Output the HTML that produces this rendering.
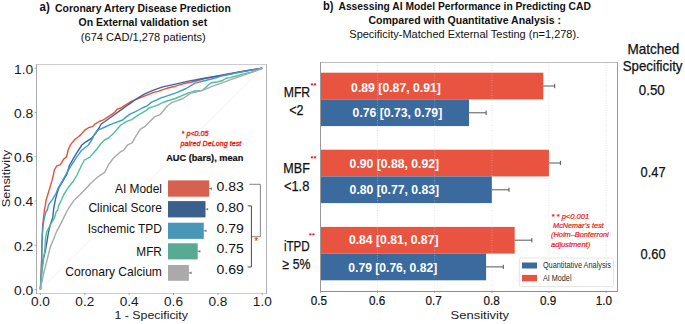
<!DOCTYPE html>
<html><head><meta charset="utf-8"><style>
html,body{margin:0;padding:0;background:#fff;}
svg{display:block;font-family:"Liberation Sans", sans-serif;}
</style></head><body>
<svg width="685" height="324" viewBox="0 0 685 324">
<text x="39.6" y="11.1" font-size="13" text-anchor="start" fill="#111" font-weight="bold" textLength="10.2" lengthAdjust="spacingAndGlyphs">a)</text>
<text x="55.1" y="12.2" font-size="10.8" text-anchor="start" fill="#111" font-weight="bold" textLength="175.7" lengthAdjust="spacingAndGlyphs">Coronary Artery Disease Prediction</text>
<text x="78.5" y="26.0" font-size="10.8" text-anchor="start" fill="#111" font-weight="bold" textLength="128.7" lengthAdjust="spacingAndGlyphs">On External validation set</text>
<text x="80.8" y="41.3" font-size="10.8" text-anchor="start" fill="#111" textLength="125" lengthAdjust="spacingAndGlyphs">(674 CAD/1,278 patients)</text>
<text x="322.9" y="10.1" font-size="13" text-anchor="start" fill="#111" font-weight="bold" textLength="10.5" lengthAdjust="spacingAndGlyphs">b)</text>
<text x="338.5" y="10.1" font-size="10.8" text-anchor="start" fill="#111" font-weight="bold" textLength="252.3" lengthAdjust="spacingAndGlyphs">Assessing AI Model Performance in Predicting CAD</text>
<text x="368.4" y="24.0" font-size="10.8" text-anchor="start" fill="#111" font-weight="bold" textLength="192.6" lengthAdjust="spacingAndGlyphs">Compared with Quantitative Analysis :</text>
<text x="349.3" y="38.2" font-size="10.8" text-anchor="start" fill="#111" textLength="229.9" lengthAdjust="spacingAndGlyphs">Specificity-Matched External Testing (n=1,278).</text>
<rect x="36" y="64" width="231" height="1" fill="#cccccc"/>
<rect x="36" y="293" width="231" height="1" fill="#cecece"/>
<rect x="266" y="64" width="1" height="230" fill="#b4b4b4"/>
<rect x="36" y="64" width="1" height="230" fill="#acacac"/>
<line x1="40.4" y1="289.4" x2="262.3" y2="68.3" stroke="#f0f0f0" stroke-width="0.9"/>
<line x1="34.5" y1="289.4" x2="36.5" y2="289.4" stroke="#999" stroke-width="0.8"/>
<text x="33.3" y="294.7" font-size="12.8" text-anchor="end" fill="#1a1a1a" textLength="19.3" lengthAdjust="spacingAndGlyphs">0.0</text>
<line x1="34.5" y1="245.2" x2="36.5" y2="245.2" stroke="#999" stroke-width="0.8"/>
<text x="33.3" y="250.5" font-size="12.8" text-anchor="end" fill="#1a1a1a" textLength="19.3" lengthAdjust="spacingAndGlyphs">0.2</text>
<line x1="34.5" y1="201.0" x2="36.5" y2="201.0" stroke="#999" stroke-width="0.8"/>
<text x="33.3" y="206.3" font-size="12.8" text-anchor="end" fill="#1a1a1a" textLength="19.3" lengthAdjust="spacingAndGlyphs">0.4</text>
<line x1="34.5" y1="156.7" x2="36.5" y2="156.7" stroke="#999" stroke-width="0.8"/>
<text x="33.3" y="162.0" font-size="12.8" text-anchor="end" fill="#1a1a1a" textLength="19.3" lengthAdjust="spacingAndGlyphs">0.6</text>
<line x1="34.5" y1="112.5" x2="36.5" y2="112.5" stroke="#999" stroke-width="0.8"/>
<text x="33.3" y="117.8" font-size="12.8" text-anchor="end" fill="#1a1a1a" textLength="19.3" lengthAdjust="spacingAndGlyphs">0.8</text>
<line x1="34.5" y1="68.3" x2="36.5" y2="68.3" stroke="#999" stroke-width="0.8"/>
<text x="33.3" y="73.6" font-size="12.8" text-anchor="end" fill="#1a1a1a" textLength="19.3" lengthAdjust="spacingAndGlyphs">1.0</text>
<line x1="40.4" y1="293" x2="40.4" y2="295" stroke="#999" stroke-width="0.8"/>
<text x="40.4" y="305.8" font-size="12.8" text-anchor="middle" fill="#1a1a1a" textLength="19.0" lengthAdjust="spacingAndGlyphs">0.0</text>
<line x1="84.8" y1="293" x2="84.8" y2="295" stroke="#999" stroke-width="0.8"/>
<text x="84.8" y="305.8" font-size="12.8" text-anchor="middle" fill="#1a1a1a" textLength="19.0" lengthAdjust="spacingAndGlyphs">0.2</text>
<line x1="129.2" y1="293" x2="129.2" y2="295" stroke="#999" stroke-width="0.8"/>
<text x="129.2" y="305.8" font-size="12.8" text-anchor="middle" fill="#1a1a1a" textLength="19.0" lengthAdjust="spacingAndGlyphs">0.4</text>
<line x1="173.5" y1="293" x2="173.5" y2="295" stroke="#999" stroke-width="0.8"/>
<text x="173.5" y="305.8" font-size="12.8" text-anchor="middle" fill="#1a1a1a" textLength="19.0" lengthAdjust="spacingAndGlyphs">0.6</text>
<line x1="217.9" y1="293" x2="217.9" y2="295" stroke="#999" stroke-width="0.8"/>
<text x="217.9" y="305.8" font-size="12.8" text-anchor="middle" fill="#1a1a1a" textLength="19.0" lengthAdjust="spacingAndGlyphs">0.8</text>
<line x1="262.3" y1="293" x2="262.3" y2="295" stroke="#999" stroke-width="0.8"/>
<text x="262.3" y="305.8" font-size="12.8" text-anchor="middle" fill="#1a1a1a" textLength="19.0" lengthAdjust="spacingAndGlyphs">1.0</text>
<text x="114.4" y="318.9" font-size="11.0" text-anchor="start" fill="#1a1a1a" textLength="73.6" lengthAdjust="spacingAndGlyphs">1 - Specificity</text>
<text transform="translate(10.4,207.2) rotate(-90)" font-size="10.8" fill="#222" textLength="57.3" lengthAdjust="spacingAndGlyphs">Sensitivity</text>
<rect x="113" y="182" width="51" height="14" fill="#fff"/>
<rect x="86" y="201" width="78" height="14" fill="#fff"/>
<rect x="85" y="222" width="79" height="14" fill="#fff"/>
<rect x="134" y="245" width="30" height="14" fill="#fff"/>
<rect x="63" y="265" width="101" height="14" fill="#fff"/>
<polyline points="40.4,289.4 41,275 41.6,259.8 42,244.6 42.3,234.7 42.7,224.8 43.6,217.4 44.4,210 45.2,205.9 46.2,199.7 47.3,196.3 49.6,188.6 51.9,180.9 53.4,175 54.3,170 56.6,166.2 60.4,164.7 63.5,159.3 66.6,156.9 68.1,150 70.6,144.6 75,139.3 77.8,137.2 80.6,134.9 85.2,129.8 88.9,127.5 92.6,126.6 95.4,123.8 99.1,121.5 102.8,120.1 105,118.9 109.6,115.9 114.3,112.7 117,109.4 120.7,108 124.4,105.7 128.1,103.4 131.9,101.1 135,99.8 144.3,96.1 150.7,93.7 153.5,92.4 158.1,91.4 162.8,89.6 167,88.3 175.4,86.2 184,83.6 190.8,82.3 195,81.2 205.8,78.4 216.6,76.2 227.4,74 238.2,72.3 249,70.4 262.3,68.3" fill="none" stroke="#e8503a" stroke-width="1.4" stroke-linejoin="round"/>
<polyline points="40.4,289.4 41.5,275 43,259.8 45.5,250 47.3,239.6 48.5,232.2 50.3,224.8 52.8,217.4 53.3,212 54.2,205.9 55.4,199.7 57,193.5 59.1,187.3 62.8,181.2 66.5,175 69.6,165 76.1,153.9 81.9,145 85.2,142.3 91.7,138.1 95.4,133.5 99.1,128 101.2,124 104.9,121.5 108.7,118.7 114.3,114.7 118.9,111.4 123.5,108.1 128.1,104.8 132,102.2 135.7,99.3 144.3,94.2 153.5,90.2 162.8,86.9 175.4,84.1 190.8,80.6 195,80 204.3,78.3 213.5,76.8 222.8,75.3 230,74 238.2,72.1 249,70.2 262.3,68.3" fill="none" stroke="#3a63a6" stroke-width="1.4" stroke-linejoin="round"/>
<polyline points="40.4,289.4 41.2,275 41.7,259.8 41.9,244.6 42.3,234.7 43.2,224.8 44.4,217.4 45.9,212 47.3,210 48.6,204.6 52.3,199.7 56,193.5 58.5,187.3 62.2,181.2 65.6,175 71.5,165 77,156.7 81.7,150.2 88.4,145 91.7,140 94.4,134.4 97.2,130.3 100.9,128.9 105,127 110,124.6 116.3,122.4 122.6,120 126.3,116.9 130,114.1 135,111.8 138.5,110 142.4,108 147,105.8 151.7,102.1 156.3,100.2 160.9,97.9 165,96.6 175.4,93.1 186.2,88.5 195,83.1 204.3,80.8 213.5,78.5 222.8,75.7 230,74.3 238.2,72.5 249,70.6 262.3,68.3" fill="none" stroke="#3b9ad2" stroke-width="1.4" stroke-linejoin="round"/>
<polyline points="40.4,289.4 41.5,275 43.5,259.8 44.8,250 45.4,239.6 46.6,232.2 50.3,224.8 54.7,217.4 56,212 57.8,210 58.5,205.9 61.5,199.7 63.8,194.5 68.4,187.3 73.3,181.2 77,175 81.7,165 84.4,160 89.9,157.1 93.6,152.8 97.3,148.5 101,143.5 104.8,139.8 108.5,138 113.4,133.6 117.1,129.3 120.8,125 126.2,121.7 132.3,119.3 138.5,114.9 145.9,110.6 148.9,108 153.5,106.7 158.1,104.9 162.8,102.5 167,101 175.4,98.5 187.8,93.1 195,91 202.4,90.5 204.3,88.7 208.9,84.5 211.7,82.7 218.1,81.7 221.9,80.8 225.6,78.5 230,77.6 236,76 243.6,73.9 253.3,71.7 262.3,68.3" fill="none" stroke="#4dbf9f" stroke-width="1.4" stroke-linejoin="round"/>
<polyline points="40.4,289.4 43.4,274.6 47.1,259.8 50.3,247 53.4,239.6 56.3,232.2 60.2,224.8 63.9,217.4 67.6,210 70.2,205.9 74.6,199.7 80,194.8 88.1,186.3 90,184 97.7,177 104.7,172.4 108.5,164.7 113.1,158.5 120.9,151.6 123.7,150 127.4,145.2 132.3,142.7 136,135.9 140.4,129.1 144.7,126.7 149.6,121.7 154.6,116.8 160,114.7 164,110 167.7,105.5 172.3,102.4 183.1,98.5 190.8,93.1 195,92.4 204.3,89.6 213.5,85.9 222.8,82.7 230,79.9 238.2,77.1 249,73.3 262.3,68.3" fill="none" stroke="#a9a9a9" stroke-width="1.4" stroke-linejoin="round"/>
<text x="181.6" y="136.1" font-size="8" text-anchor="start" fill="#f01010" font-style="italic" textLength="27" lengthAdjust="spacingAndGlyphs" stroke="#f01010" stroke-width="0.3">* p&lt;0.05</text>
<text x="180.5" y="145.8" font-size="8" text-anchor="start" fill="#f01010" font-style="italic" textLength="60.8" lengthAdjust="spacingAndGlyphs" stroke="#f01010" stroke-width="0.3">paired DeLong test</text>
<text x="166.2" y="160.6" font-size="8.9" text-anchor="start" fill="#111" font-weight="bold" textLength="77.1" lengthAdjust="spacingAndGlyphs" stroke="#111" stroke-width="0.2">AUC (bars), mean</text>
<rect x="168" y="180.4" width="41.2" height="16.3" fill="#d8604f"/>
<line x1="209.2" y1="188.6" x2="211.4" y2="188.6" stroke="#555" stroke-width="0.8"/>
<line x1="211.4" y1="187.4" x2="211.4" y2="189.8" stroke="#555" stroke-width="0.8"/>
<text x="161.9" y="193.0" font-size="12.6" text-anchor="end" fill="#111" textLength="46.9" lengthAdjust="spacingAndGlyphs">AI Model</text>
<text x="216.5" y="191.0" font-size="12.6" text-anchor="start" fill="#111" textLength="27.3" lengthAdjust="spacingAndGlyphs">0.83</text>
<rect x="168" y="201.1" width="37.5" height="16.3" fill="#3b608b"/>
<line x1="205.5" y1="209.2" x2="207.7" y2="209.2" stroke="#555" stroke-width="0.8"/>
<line x1="207.7" y1="208.1" x2="207.7" y2="210.4" stroke="#555" stroke-width="0.8"/>
<text x="161.9" y="212.1" font-size="12.6" text-anchor="end" fill="#111" textLength="73.5" lengthAdjust="spacingAndGlyphs">Clinical Score</text>
<text x="216.5" y="211.8" font-size="12.6" text-anchor="start" fill="#111" textLength="27.3" lengthAdjust="spacingAndGlyphs">0.80</text>
<rect x="168" y="222.7" width="35.8" height="16.2" fill="#4997b8"/>
<line x1="203.8" y1="230.8" x2="206.0" y2="230.8" stroke="#555" stroke-width="0.8"/>
<line x1="206.0" y1="229.6" x2="206.0" y2="232.0" stroke="#555" stroke-width="0.8"/>
<text x="161.9" y="233.3" font-size="12.6" text-anchor="end" fill="#111" textLength="74.2" lengthAdjust="spacingAndGlyphs">Ischemic TPD</text>
<text x="216.5" y="232.6" font-size="12.6" text-anchor="start" fill="#111" textLength="27.3" lengthAdjust="spacingAndGlyphs">0.79</text>
<rect x="168" y="243.3" width="29.7" height="16.1" fill="#59aa93"/>
<line x1="197.7" y1="251.3" x2="199.9" y2="251.3" stroke="#555" stroke-width="0.8"/>
<line x1="199.9" y1="250.2" x2="199.9" y2="252.5" stroke="#555" stroke-width="0.8"/>
<text x="161.9" y="256.1" font-size="12.6" text-anchor="end" fill="#111" textLength="25.6" lengthAdjust="spacingAndGlyphs">MFR</text>
<text x="216.5" y="253.4" font-size="12.6" text-anchor="start" fill="#111" textLength="27.3" lengthAdjust="spacingAndGlyphs">0.75</text>
<rect x="168" y="265.0" width="20.9" height="15.8" fill="#aaaaaa"/>
<line x1="188.9" y1="272.9" x2="191.1" y2="272.9" stroke="#555" stroke-width="0.8"/>
<line x1="191.1" y1="271.7" x2="191.1" y2="274.1" stroke="#555" stroke-width="0.8"/>
<text x="161.9" y="275.8" font-size="12.6" text-anchor="end" fill="#111" textLength="96.6" lengthAdjust="spacingAndGlyphs">Coronary Calcium</text>
<text x="216.5" y="274.2" font-size="12.6" text-anchor="start" fill="#111" textLength="27.3" lengthAdjust="spacingAndGlyphs">0.69</text>
<polyline points="249.3,184.3 260.4,184.3 260.4,236.7 251.4,236.7" fill="none" stroke="#777" stroke-width="0.9"/>
<polyline points="247.7,205.9 251.4,205.9 251.4,267 247.7,267" fill="none" stroke="#333" stroke-width="0.9"/>
<text x="254.2" y="245.0" font-size="10" text-anchor="start" fill="#f01010">*</text>
<rect x="320" y="62" width="298" height="1" fill="#bdbdbd"/>
<rect x="617" y="62" width="1" height="230" fill="#9c9c9c"/>
<rect x="320.5" y="72.7" width="222.8" height="26.7" fill="#e8543f"/>
<rect x="320.5" y="99.4" width="148.5" height="26.7" fill="#3a6a9e"/>
<line x1="543.3" y1="86.0" x2="554.7" y2="86.0" stroke="#444" stroke-width="0.9"/>
<line x1="554.7" y1="83.8" x2="554.7" y2="88.2" stroke="#444" stroke-width="0.9"/>
<line x1="469.0" y1="112.8" x2="486.1" y2="112.8" stroke="#444" stroke-width="0.9"/>
<line x1="486.1" y1="110.5" x2="486.1" y2="115.0" stroke="#444" stroke-width="0.9"/>
<text x="351.1" y="92.0" font-size="12" text-anchor="start" fill="#fff" font-weight="bold" textLength="89.8" lengthAdjust="spacingAndGlyphs">0.89 [0.87, 0.91]</text>
<text x="352.6" y="117.0" font-size="12" text-anchor="start" fill="#fff" font-weight="bold" textLength="89.6" lengthAdjust="spacingAndGlyphs">0.76 [0.73, 0.79]</text>
<rect x="320.5" y="149.7" width="228.5" height="26.7" fill="#e8543f"/>
<rect x="320.5" y="176.4" width="171.4" height="26.7" fill="#3a6a9e"/>
<line x1="549.0" y1="163.0" x2="560.4" y2="163.0" stroke="#444" stroke-width="0.9"/>
<line x1="560.4" y1="160.8" x2="560.4" y2="165.2" stroke="#444" stroke-width="0.9"/>
<line x1="491.9" y1="189.8" x2="509.0" y2="189.8" stroke="#444" stroke-width="0.9"/>
<line x1="509.0" y1="187.6" x2="509.0" y2="191.9" stroke="#444" stroke-width="0.9"/>
<text x="349.6" y="168.1" font-size="12" text-anchor="start" fill="#fff" font-weight="bold" textLength="89.5" lengthAdjust="spacingAndGlyphs">0.90 [0.88, 0.92]</text>
<text x="349.6" y="194.4" font-size="12" text-anchor="start" fill="#fff" font-weight="bold" textLength="89.5" lengthAdjust="spacingAndGlyphs">0.80 [0.77, 0.83]</text>
<rect x="320.5" y="226.9" width="194.2" height="26.7" fill="#e8543f"/>
<rect x="320.5" y="253.6" width="165.6" height="26.7" fill="#3a6a9e"/>
<line x1="514.7" y1="240.2" x2="531.9" y2="240.2" stroke="#444" stroke-width="0.9"/>
<line x1="531.9" y1="238.1" x2="531.9" y2="242.4" stroke="#444" stroke-width="0.9"/>
<line x1="486.1" y1="266.9" x2="503.3" y2="266.9" stroke="#444" stroke-width="0.9"/>
<line x1="503.3" y1="264.8" x2="503.3" y2="269.1" stroke="#444" stroke-width="0.9"/>
<text x="348.9" y="244.0" font-size="12" text-anchor="start" fill="#fff" font-weight="bold" textLength="89.6" lengthAdjust="spacingAndGlyphs">0.84 [0.81, 0.87]</text>
<text x="348.3" y="271.7" font-size="12" text-anchor="start" fill="#fff" font-weight="bold" textLength="88.9" lengthAdjust="spacingAndGlyphs">0.79 [0.76, 0.82]</text>
<rect x="320" y="291" width="298" height="1" fill="#8c8c8c"/>
<rect x="320" y="62" width="1" height="230" fill="#999999"/>
<line x1="377.5" y1="62.5" x2="377.5" y2="291" stroke="#ccc" stroke-width="0.7" stroke-dasharray="1,1.5" opacity="0.7"/>
<line x1="434.7" y1="62.5" x2="434.7" y2="291" stroke="#ccc" stroke-width="0.7" stroke-dasharray="1,1.5" opacity="0.7"/>
<line x1="491.9" y1="62.5" x2="491.9" y2="291" stroke="#ccc" stroke-width="0.7" stroke-dasharray="1,1.5" opacity="0.7"/>
<line x1="549.0" y1="62.5" x2="549.0" y2="291" stroke="#ccc" stroke-width="0.7" stroke-dasharray="1,1.5" opacity="0.7"/>
<line x1="606.1" y1="62.5" x2="606.1" y2="291" stroke="#ccc" stroke-width="0.7" stroke-dasharray="1,1.5" opacity="0.7"/>
<line x1="320.4" y1="291.3" x2="320.4" y2="293" stroke="#999" stroke-width="0.8"/>
<line x1="377.5" y1="291.3" x2="377.5" y2="293" stroke="#999" stroke-width="0.8"/>
<line x1="434.7" y1="291.3" x2="434.7" y2="293" stroke="#999" stroke-width="0.8"/>
<line x1="491.9" y1="291.3" x2="491.9" y2="293" stroke="#999" stroke-width="0.8"/>
<line x1="549.0" y1="291.3" x2="549.0" y2="293" stroke="#999" stroke-width="0.8"/>
<line x1="606.1" y1="291.3" x2="606.1" y2="293" stroke="#999" stroke-width="0.8"/>
<text x="310.8" y="304.6" font-size="12.8" text-anchor="start" fill="#111" textLength="16.3" lengthAdjust="spacingAndGlyphs" stroke="#111" stroke-width="0.2">0.5</text>
<text x="369.0" y="304.6" font-size="12.8" text-anchor="start" fill="#111" textLength="16.3" lengthAdjust="spacingAndGlyphs" stroke="#111" stroke-width="0.2">0.6</text>
<text x="425.5" y="304.6" font-size="12.8" text-anchor="start" fill="#111" textLength="16.3" lengthAdjust="spacingAndGlyphs" stroke="#111" stroke-width="0.2">0.7</text>
<text x="483.6" y="304.6" font-size="12.8" text-anchor="start" fill="#111" textLength="16.3" lengthAdjust="spacingAndGlyphs" stroke="#111" stroke-width="0.2">0.8</text>
<text x="539.9" y="304.6" font-size="12.8" text-anchor="start" fill="#111" textLength="16.3" lengthAdjust="spacingAndGlyphs" stroke="#111" stroke-width="0.2">0.9</text>
<text x="595.7" y="304.6" font-size="12.8" text-anchor="start" fill="#111" textLength="16.3" lengthAdjust="spacingAndGlyphs" stroke="#111" stroke-width="0.2">1.0</text>
<text x="450.6" y="319.3" font-size="11.8" text-anchor="start" fill="#1a1a1a" textLength="58.4" lengthAdjust="spacingAndGlyphs">Sensitivity</text>
<text x="283.7" y="96.9" font-size="14.2" text-anchor="start" fill="#111" textLength="26.5" lengthAdjust="spacingAndGlyphs" stroke="#111" stroke-width="0.25">MFR</text>
<text x="289.3" y="114.6" font-size="14.2" text-anchor="start" fill="#111" textLength="14.2" lengthAdjust="spacingAndGlyphs" stroke="#111" stroke-width="0.25">&lt;2</text>
<rect x="310.9" y="83.39999999999999" width="2.1" height="1.9" fill="#ee1c1c"/><rect x="314.0" y="83.39999999999999" width="2.1" height="1.9" fill="#ee1c1c"/>
<text x="283.3" y="172.6" font-size="14.2" text-anchor="start" fill="#111" textLength="26.5" lengthAdjust="spacingAndGlyphs" stroke="#111" stroke-width="0.25">MBF</text>
<text x="283.9" y="190.8" font-size="14.2" text-anchor="start" fill="#111" textLength="25.5" lengthAdjust="spacingAndGlyphs" stroke="#111" stroke-width="0.25">&lt;1.8</text>
<rect x="310.9" y="156.4" width="2.1" height="1.9" fill="#ee1c1c"/><rect x="314.0" y="156.4" width="2.1" height="1.9" fill="#ee1c1c"/>
<text x="283.9" y="251" font-size="14.2" text-anchor="start" fill="#111" textLength="25.9" lengthAdjust="spacingAndGlyphs" stroke="#111" stroke-width="0.25">iTPD</text>
<text x="282.6" y="268.9" font-size="14.2" text-anchor="start" fill="#111" textLength="27.8" lengthAdjust="spacingAndGlyphs" stroke="#111" stroke-width="0.25">≥ 5%</text>
<rect x="309.3" y="233.4" width="2.1" height="1.9" fill="#ee1c1c"/><rect x="312.40000000000003" y="233.4" width="2.1" height="1.9" fill="#ee1c1c"/>
<text x="627.4" y="54.3" font-size="14.4" text-anchor="start" fill="#111" textLength="52" lengthAdjust="spacingAndGlyphs" stroke="#111" stroke-width="0.25">Matched</text>
<text x="622.7" y="71.0" font-size="14.4" text-anchor="start" fill="#111" textLength="59.8" lengthAdjust="spacingAndGlyphs" stroke="#111" stroke-width="0.25">Specificity</text>
<text x="638.8" y="95.3" font-size="14.3" text-anchor="start" fill="#111" textLength="25.9" lengthAdjust="spacingAndGlyphs" stroke="#111" stroke-width="0.25">0.50</text>
<text x="640.6" y="177.1" font-size="14.3" text-anchor="start" fill="#111" textLength="25.0" lengthAdjust="spacingAndGlyphs" stroke="#111" stroke-width="0.25">0.47</text>
<text x="640.6" y="259.0" font-size="14.3" text-anchor="start" fill="#111" textLength="25.0" lengthAdjust="spacingAndGlyphs" stroke="#111" stroke-width="0.25">0.60</text>
<text x="551.6" y="218.6" font-size="8.0" text-anchor="start" fill="#f01010" font-style="italic" textLength="37.5" lengthAdjust="spacingAndGlyphs" stroke="#f01010" stroke-width="0.2">* * p&lt;0.001</text>
<text x="553.1" y="228.2" font-size="8.0" text-anchor="start" fill="#f01010" font-style="italic" textLength="50.5" lengthAdjust="spacingAndGlyphs" stroke="#f01010" stroke-width="0.2">McNemar’s test</text>
<text x="551.1" y="237.4" font-size="8.0" text-anchor="start" fill="#f01010" font-style="italic" textLength="57.6" lengthAdjust="spacingAndGlyphs" stroke="#f01010" stroke-width="0.2">(Holm–Bonferroni</text>
<text x="551.1" y="247" font-size="8.0" text-anchor="start" fill="#f01010" font-style="italic" textLength="39.1" lengthAdjust="spacingAndGlyphs" stroke="#f01010" stroke-width="0.2">adjustment)</text>
<rect x="519.3" y="258" width="94.3" height="28.6" rx="2" fill="#fff" fill-opacity="0.8" stroke="#ddd" stroke-width="0.8"/>
<rect x="522" y="262.5" width="15" height="6" fill="#3a6a9e"/>
<rect x="522" y="274.9" width="15" height="6.4" fill="#e8543f"/>
<text x="542.9" y="268.3" font-size="8.8" text-anchor="start" fill="#2a2a2a" textLength="68" lengthAdjust="spacingAndGlyphs">Quantitative Analysis</text>
<text x="542.9" y="281.4" font-size="8.8" text-anchor="start" fill="#2a2a2a" textLength="28.6" lengthAdjust="spacingAndGlyphs">AI Model</text>
</svg>
</body></html>
